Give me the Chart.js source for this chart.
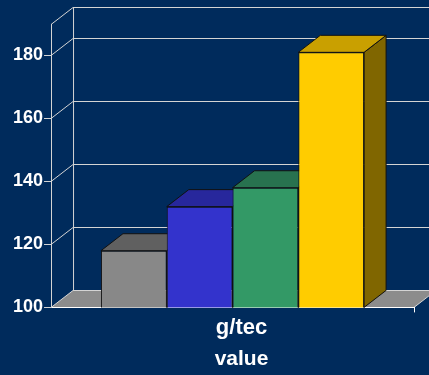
<!DOCTYPE html>
<html>
<head>
<meta charset="utf-8">
<script src="https://cdn.jsdelivr.net/npm/chart.js@4.4.1/dist/chart.umd.min.js"></script>
<style>
  html, body { margin: 0; padding: 0; background: #002b5c; }
  canvas { display: block; }
</style>
</head>
<body>
<canvas id="chart3d" width="429" height="375"></canvas>
<script>
// data
const categories = ['g/tec'];
const seriesNames = ['Series 1', 'Series 2', 'Series 3', 'Series 4'];
const seriesValues = [118, 132, 138, 181];
const yMin = 100;
const yMax = 190;
const yStep = 20;
const xTitle = 'value';

// colours: front, top, side
const frontColors = ['#888888', '#3333cc', '#339966', '#ffcc00'];
const topColors = ['#606060', '#27279c', '#28724f', '#c9a000'];
const sideColors = ['#4c4c4c', '#1c1c70', '#1d5539', '#806600'];

const DX = 22, DY = 17;
const BG = '#002b5c';
const LINE = '#d4d4d4';
const FONT = "'Liberation Sans', Arial, sans-serif";

function poly(ctx, pts, fill, stroke) {
    ctx.beginPath();
    ctx.moveTo(pts[0][0], pts[0][1]);
    for (let i = 1; i < pts.length; i++) ctx.lineTo(pts[i][0], pts[i][1]);
    ctx.closePath();
    if (fill) { ctx.fillStyle = fill; ctx.fill(); }
    if (stroke) { ctx.strokeStyle = stroke; ctx.lineWidth = 1; ctx.stroke(); }
}

const box3d = {
    id: 'box3d',
    afterLayout(chart) {
        // nudge the axis title like the original
        const s = chart.scales.x;
        if (s && !s._titleShifted) {
            const orig = s.drawTitle.bind(s);
            s.drawTitle = function () {
                chart.ctx.save();
                chart.ctx.translate(9, 0);
                orig();
                chart.ctx.restore();
            };
            s._titleShifted = true;
        }
    },
    beforeDraw(chart) {
        const {ctx, chartArea: a, scales: {y}} = chart;
        ctx.save();
        ctx.fillStyle = BG;
        ctx.fillRect(0, 0, chart.width, chart.height);

        // floor
        const yb = y.getPixelForValue(yMin);
        poly(ctx, [[a.left, yb], [a.right, yb], [a.right + DX, yb - DY], [a.left + DX, yb - DY]], '#8c8c8c');

        ctx.strokeStyle = LINE;
        ctx.lineWidth = 1;
        // back wall lines
        const vals = y.ticks.map(t => t.value).concat([yMax]);
        vals.forEach(v => {
            const py = Math.round(y.getPixelForValue(v)) + 0.5;
            ctx.beginPath();
            ctx.moveTo(a.left, py);
            ctx.lineTo(a.left + DX, py - DY);
            ctx.lineTo(chart.width + 20, py - DY);
            ctx.stroke();
        });
        const bx = a.left + DX + 0.5;
        ctx.beginPath();
        ctx.moveTo(bx, y.getPixelForValue(yMax) - DY);
        ctx.lineTo(bx, yb - DY);
        ctx.stroke();
        ctx.beginPath();
        ctx.moveTo(a.right, yb);
        ctx.lineTo(a.right + DX, yb - DY);
        ctx.stroke();
        ctx.restore();
    },
    beforeDatasetsDraw(chart) {
        const ctx = chart.ctx;
        const bottom = chart.chartArea.bottom;
        ctx.save();
        for (let i = 0; i < chart.data.datasets.length; i++) {
            chart.getDatasetMeta(i).data.forEach(bar => {
                const l = bar.x - bar.width / 2, r = bar.x + bar.width / 2;
                const t = bar.y, b = Math.min(bar.base, bottom);
                poly(ctx, [[r, t], [r + DX, t - DY], [r + DX, b - DY], [r, b]], sideColors[i], '#111');
                poly(ctx, [[l, t], [r, t], [r + DX, t - DY], [l + DX, t - DY]], topColors[i], '#111');
            });
        }
        ctx.restore();
    }
};

new Chart(document.getElementById('chart3d'), {
    type: 'bar',
    data: {
        labels: categories,
        datasets: seriesValues.map((v, i) => ({
            label: seriesNames[i],
            data: [v],
            backgroundColor: frontColors[i],
            borderColor: '#111111',
            borderWidth: 1,
            barPercentage: 1,
            categoryPercentage: 0.725
        }))
    },
    options: {
        responsive: false,
        devicePixelRatio: 1,
        animation: false,
        layout: { padding: { top: 24, right: 15, left: 12, bottom: 0 } },
        plugins: {
            legend: { display: false },
            tooltip: { enabled: false }
        },
        scales: {
            x: {
                grid: {
                    drawOnChartArea: false,
                    tickLength: 5,
                    color: ctx => ctx.index === 0 ? 'rgba(0,0,0,0)' : '#ffffff'
                },
                border: { display: true, color: '#ffffff', width: 1 },
                ticks: {
                    color: '#ffffff',
                    padding: 2,
                    labelOffset: 9,
                    font: { family: FONT, size: 22, weight: 'bold' }
                },
                title: {
                    display: true,
                    text: xTitle,
                    color: '#ffffff',
                    padding: { top: 4, bottom: 3 },
                    font: { family: FONT, size: 21, weight: 'bold' }
                }
            },
            y: {
                min: yMin,
                max: yMax,
                grid: { drawOnChartArea: false, tickLength: 7, color: LINE },
                border: { display: true, color: LINE, width: 1 },
                ticks: {
                    stepSize: yStep,
                    includeBounds: false,
                    color: '#ffffff',
                    padding: 1,
                    font: { family: FONT, size: 18, weight: 'bold' }
                }
            }
        }
    },
    plugins: [box3d]
});
</script>
</body>
</html>
